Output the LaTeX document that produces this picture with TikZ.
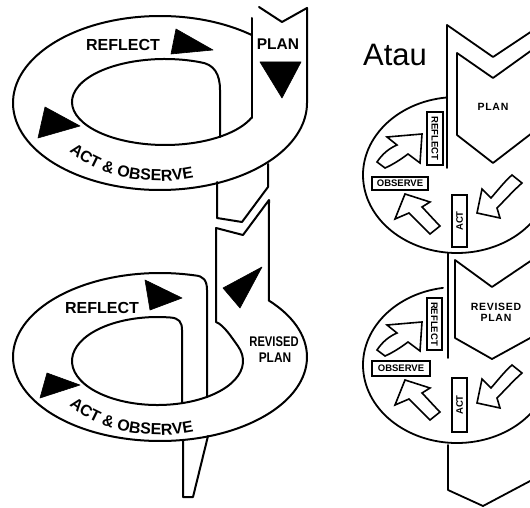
\documentclass[tikz,border=0pt]{standalone}
\usepackage{fontspec}
\usepackage{graphicx}
\setmainfont{Liberation Sans}
\usetikzlibrary{decorations.text,calc}
\newcommand{\lsp}{\kern0.7pt}
\begin{document}
\begin{tikzpicture}[x=1pt,y=1pt,
  ln/.style={line width=2pt,line join=round,line cap=round},
  rln/.style={line width=1.8pt,line join=round,line cap=round},
  tri/.style={fill=black,draw=black,line width=0.6pt,line join=round},
  big/.style={font=\bfseries\fontsize{16}{16}\selectfont,inner sep=0pt},
  small/.style={font=\bfseries\fontsize{10.5}{10.5}\selectfont,inner sep=0pt},
  tbox/.style={draw,line width=1.6pt,fill=white,font=\bfseries\fontsize{9.5}{9.5}\selectfont,inner sep=0pt},
  harr/.style={draw,fill=white,line width=1.6pt,line join=miter},
  arctext/.style={decorate,decoration={text along path,text align=center,
    text={|\bfseries\fontsize{16}{16}\selectfont|ACT {\&} OBSERVE}}},
  arrNE/.pic={\path[harr] (422,-134) -- (420,-163) -- (408,-154) .. controls (400,-160) and (392,-165) .. (385,-168) -- (377,-162) .. controls (383,-153) and (390,-148) .. (397,-145) -- (387,-137) -- cycle;},
  arrNW/.pic={\path[harr] (405,-194) -- (395,-219) -- (409,-213) .. controls (416,-220) and (424,-228) .. (430,-234) -- (440,-226) .. controls (433,-219) and (427,-212) .. (422,-207) -- (430,-202) -- cycle;},
  arrSW/.pic={\path[harr] (477,-213) -- (482,-189) -- (491,-198) .. controls (498,-190) and (505,-181) .. (512,-175) -- (522,-183) .. controls (514,-190) and (505,-200) .. (497,-208) -- (500,-218) -- cycle;}
]
\useasboundingbox (0,0) rectangle (530,-508);
\begin{scope}
\clip (0,0) rectangle (530,-508);
% ---------------- left diagram: upper ring ----------------
\coordinate (O1) at (160,-103);
\coordinate (I1) at (165,-102);
\draw[ln] ($(O1)+(51.3:147 and 87)$) arc[start angle=51.3,end angle=360,x radius=147,y radius=87] -- (307,-8);
\draw[ln] (259,-7) -- (282,-22) -- (307,-8);
\draw[ln] (252,-18) -- (252,-118);
\draw[ln] ($(I1)+(67.9:93 and 43)$) arc[start angle=67.9,end angle=339.3,x radius=93,y radius=43];
\draw[ln] (200,-62.2) .. controls (214,-64) and (220,-74) .. (220,-90) -- (220,-137);
\draw[ln] (217,-182) -- (217,-218) -- (242,-222) -- (268,-187) -- (268,-164);
\fill[tri] (176,-29) -- (171,-54) -- (213,-50) -- cycle;
\fill[tri] (260,-62) -- (301,-62) -- (282,-98) -- cycle;
\fill[tri] (45,-107) -- (38,-138) -- (80,-126) -- cycle;
\node[big] (reflect1) at (123,-45) {REFLECT};
\node[big,font=\bfseries\fontsize{15.5}{15.5}\selectfont] (plan1) at (278,-44) {PLAN};
\path[arctext] ($(O1)+(212:115 and 78)$) arc[start angle=212,end angle=292,x radius=115,y radius=78];
% ---------------- left diagram: lower ring ----------------
\coordinate (O2) at (160,-357);
\coordinate (I2) at (157.5,-361);
\draw[ln] (216,-228) -- (243,-235) -- (269,-200) -- ($(O2)+(42.2:147 and 84)$)
  arc[start angle=42.2,end angle=-283.8,x radius=147,y radius=84]
  .. controls (203,-276) and (207,-280) .. (207,-290) -- (207,-397);
\draw[ln] (216,-228) -- (216,-322) .. controls (224,-325) and (232,-338) .. ($(I2)+(20:85.5 and 44)$)
  arc[start angle=20,end angle=-278.4,x radius=85.5,y radius=44]
  .. controls (179,-318) and (182,-322) .. (182,-330) -- (182,-403);
\draw[ln] (183,-440) -- (183,-497) -- (193,-497) -- (208,-436);
\fill[tri] (145,-280) -- (150,-310) -- (182,-298) -- cycle;
\fill[tri] (47,-373) -- (40,-398) -- (80,-385) -- cycle;
\fill[tri] (262,-267) -- (223,-288) -- (240,-308) -- cycle;
\node[big] (reflect2) at (102,-308) {REFLECT};
\node[big,font=\bfseries\fontsize{14}{14}\selectfont] (revised2) at (274,-342) {\scalebox{0.8}[1]{REVISED}};
\node[big,font=\bfseries\fontsize{14}{14}\selectfont] (plan2) at (275,-358) {\scalebox{0.85}[1]{PLAN}};
\path[arctext] ($(O2)+(212:115 and 78)$) arc[start angle=212,end angle=292,x radius=115,y radius=78];
% ---------------- right diagram ----------------
\node[font=\fontsize{31}{31}\selectfont,inner sep=0pt] (atau) at (395,-55) {Atau};
\coordinate (R1) at (457,-175);
\coordinate (R2) at (457,-365);
\draw[rln] ($(R1)+(96.1:94 and 78)$) arc[start angle=96.1,end angle=321.9,x radius=94,y radius=78];
\draw[rln] ($(R2)+(98.6:94 and 78)$) arc[start angle=98.6,end angle=321.9,x radius=94,y radius=78];
\draw[rln] (447,-25) -- (447,-168);
\draw[rln] (447,-25) -- (493,-57) -- (532,-31);
\draw[rln] (532,-50) -- (493,-78) -- (457,-53) -- (457,-135) -- (493,-163) -- (532,-133);
\draw[rln] (448,-253) -- (448,-358);
\draw[rln] (532,-260) -- (492,-287) -- (455,-260) -- (455,-338) -- (492,-359) -- (532,-337);
\draw[rln] (448,-445) -- (448,-490) -- (483,-506) -- (532,-480);
\node[small] (plan3) at (493,-107) {P\lsp L\lsp A\lsp N};
\node[small] (revised4) at (496,-307) {R\lsp E\lsp V\lsp I\lsp S\lsp E\lsp D};
\node[small] (plan4) at (496,-318) {P\lsp L\lsp A\lsp N};
\node[tbox,rotate=-90,minimum width=53pt,minimum height=16pt] (rf1) at (435,-138.5) {REFLECT};
\node[tbox,minimum width=56pt,minimum height=13pt] (ob1) at (400,-183.5) {OBSERVE};
\node[tbox,rotate=90,minimum width=52pt,minimum height=15pt] (ac1) at (459.5,-221) {ACT};
\node[tbox,rotate=-90,minimum width=52pt,minimum height=15pt] (rf2) at (434.5,-324) {REFLECT};
\node[tbox,minimum width=58pt,minimum height=15pt] (ob2) at (401,-368.5) {OBSERVE};
\node[tbox,rotate=90,minimum width=54pt,minimum height=15pt] (ac2) at (459.5,-405) {ACT};
\pic at (0,0) {arrNE};
\pic at (0,0) {arrNW};
\pic at (0,0) {arrSW};
\pic at (0,-188) {arrNE};
\pic at (0,-186) {arrNW};
\pic at (0,-190) {arrSW};
\end{scope}
\end{tikzpicture}
\end{document}
